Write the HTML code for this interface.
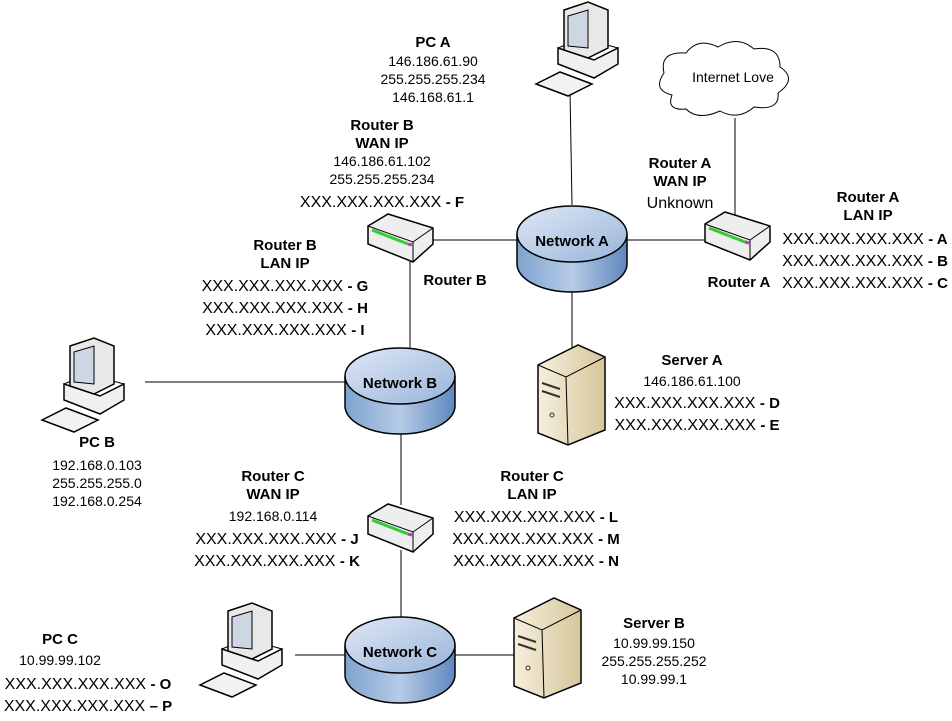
<!DOCTYPE html>
<html><head><style>
body{margin:0;background:#fff}
svg text{font-family:"Liberation Sans",Arial,sans-serif;font-size:14px;fill:#000}
.b{font-weight:bold;font-size:15px}
.x{font-size:16px}
</style></head><body>
<svg width="952" height="716" xmlns="http://www.w3.org/2000/svg">
<defs>
<linearGradient id="cy" x1="0" x2="1" y1="0" y2="0"><stop offset="0" stop-color="#7fa3cf"/><stop offset="0.5" stop-color="#b6cbe6"/><stop offset="1" stop-color="#5f88bf"/></linearGradient>
<linearGradient id="ct" x1="0" x2="1" y1="0" y2="1"><stop offset="0" stop-color="#dfe8f5"/><stop offset="1" stop-color="#98b4da"/></linearGradient>
<linearGradient id="svg1" x1="0" x2="1"><stop offset="0" stop-color="#f6efdc"/><stop offset="1" stop-color="#d6c69a"/></linearGradient>
<g id="net"><path d="M-55,0 v30 a55,28 0 0 0 110,0 v-30" fill="url(#cy)" stroke="#000" stroke-width="1.5"/><ellipse cx="0" cy="0" rx="55" ry="28" fill="url(#ct)" stroke="#000" stroke-width="1.5"/></g>
<g id="rt"><path d="M0,12 L20,0 L65,14 L65,30 L45,48 L0,30 Z" fill="#eee" stroke="#000" stroke-width="1.5"/><path d="M0,12 L45,28 L65,14 M45,28 L45,48" fill="none" stroke="#000"/><path d="M4,16 l36,14" stroke="#3c3" stroke-width="3"/><path d="M40,30 l4,1" stroke="#c3c" stroke-width="3"/></g>
<g id="pc">
<path d="M22,46 L58,58 L82,46 L82,62 L58,76 L22,62 Z" fill="#f0f0f0" stroke="#000" stroke-width="1.5"/>
<path d="M22,46 L46,36 L82,46" fill="#fafafa" stroke="#000"/>
<path d="M28,8 L52,0 L72,8 L72,46 L52,56 L28,48 Z" fill="#e8e8e8" stroke="#000" stroke-width="1.5"/>
<path d="M32,14 L52,8 L52,46 L32,44 Z" fill="#cdd6e2" stroke="#000"/>
<path d="M0,82 L24,70 L56,82 L32,94 Z" fill="#f2f2f2" stroke="#000" stroke-width="1.5"/>
</g>
<g id="srv"><path d="M0,20 L40,0 L67,12 L67,85 L30,100 L0,88 Z" fill="url(#svg1)" stroke="#000" stroke-width="1.5"/><path d="M0,20 L28,32 L67,12 M28,32 L30,100" fill="none" stroke="#000"/><path d="M4,38 l18,6 M4,46 l18,6" stroke="#333" stroke-width="2"/><circle cx="14" cy="70" r="2" fill="none" stroke="#333"/></g>
</defs>
<g stroke="#000" stroke-width="1">
<line x1="570" y1="90" x2="572" y2="205"/>
<line x1="735" y1="118" x2="735" y2="215"/>
<line x1="420" y1="240" x2="705" y2="240"/>
<line x1="572" y1="280" x2="572" y2="350"/>
<line x1="410" y1="258" x2="410" y2="360"/>
<line x1="145" y1="382" x2="345" y2="382"/>
<line x1="401" y1="404" x2="401" y2="505"/>
<line x1="401" y1="550" x2="401" y2="630"/>
<line x1="295" y1="655" x2="515" y2="655"/>
</g>
<path d="M672,95 q-20,-5 -8,-22 q-5,-22 22,-20 q12,-16 32,-6 q20,-12 36,2 q26,-4 26,18 q18,12 -2,26 q2,18 -24,14 q-16,14 -34,4 q-22,10 -34,-2 q-20,2 -14,-14 Z" fill="#fff" stroke="#000"/>
<text x="733" y="82" text-anchor="middle">Internet Love</text>
<use href="#pc" x="536" y="2"/>
<use href="#pc" x="42" y="338"/>
<use href="#pc" x="200" y="603"/>
<use href="#srv" x="538" y="345"/>
<use href="#srv" x="514" y="598"/>
<use href="#net" x="572" y="234"/>
<use href="#net" x="400" y="376"/>
<use href="#net" x="400" y="645"/>
<use href="#rt" x="368" y="214"/>
<use href="#rt" x="705" y="212"/>
<use href="#rt" x="368" y="504"/>
<g text-anchor="middle">
<text x="572" y="246" class="b">Network A</text>
<text x="400" y="388" class="b">Network B</text>
<text x="400" y="657" class="b">Network C</text>
</g>
<g text-anchor="middle">
<text x="433" y="47" class="b">PC A</text><text x="433" y="66">146.186.61.90</text><text x="433" y="84">255.255.255.234</text><text x="433" y="102">146.168.61.1</text>
<text x="382" y="130" class="b">Router B</text><text x="382" y="148" class="b">WAN IP</text><text x="382" y="166">146.186.61.102</text><text x="382" y="184">255.255.255.234</text>
<text x="382" y="207" class="x">XXX.XXX.XXX.XXX <tspan class="b">- F</tspan></text>
<text x="285" y="250" class="b">Router B</text><text x="285" y="268" class="b">LAN IP</text>
<text x="285" y="291" class="x">XXX.XXX.XXX.XXX <tspan class="b">- G</tspan></text>
<text x="285" y="313" class="x">XXX.XXX.XXX.XXX <tspan class="b">- H</tspan></text>
<text x="285" y="335" class="x">XXX.XXX.XXX.XXX <tspan class="b">- I</tspan></text>
<text x="455" y="285" class="b">Router B</text>
<text x="680" y="168" class="b">Router A</text><text x="680" y="186" class="b">WAN IP</text><text x="680" y="208" style="font-size:16px">Unknown</text>
<text x="868" y="202" class="b">Router A</text><text x="868" y="220" class="b">LAN IP</text>
<text x="865" y="244" class="x">XXX.XXX.XXX.XXX <tspan class="b">- A</tspan></text>
<text x="865" y="266" class="x">XXX.XXX.XXX.XXX <tspan class="b">- B</tspan></text>
<text x="865" y="288" class="x">XXX.XXX.XXX.XXX <tspan class="b">- C</tspan></text>
<text x="739" y="287" class="b">Router A</text>
<text x="692" y="365" class="b">Server A</text><text x="692" y="386">146.186.61.100</text>
<text x="697" y="408" class="x">XXX.XXX.XXX.XXX <tspan class="b">- D</tspan></text>
<text x="697" y="430" class="x">XXX.XXX.XXX.XXX <tspan class="b">- E</tspan></text>
<text x="97" y="447" class="b">PC B</text><text x="97" y="470">192.168.0.103</text><text x="97" y="488">255.255.255.0</text><text x="97" y="506">192.168.0.254</text>
<text x="273" y="481" class="b">Router C</text><text x="273" y="499" class="b">WAN IP</text><text x="273" y="521">192.168.0.114</text>
<text x="277" y="544" class="x">XXX.XXX.XXX.XXX <tspan class="b">- J</tspan></text>
<text x="277" y="566" class="x">XXX.XXX.XXX.XXX <tspan class="b">- K</tspan></text>
<text x="532" y="481" class="b">Router C</text><text x="532" y="499" class="b">LAN IP</text>
<text x="536" y="522" class="x">XXX.XXX.XXX.XXX <tspan class="b">- L</tspan></text>
<text x="536" y="544" class="x">XXX.XXX.XXX.XXX <tspan class="b">- M</tspan></text>
<text x="536" y="566" class="x">XXX.XXX.XXX.XXX <tspan class="b">- N</tspan></text>
<text x="60" y="644" class="b">PC C</text><text x="60" y="665">10.99.99.102</text>
<text x="88" y="689" class="x">XXX.XXX.XXX.XXX <tspan class="b">- O</tspan></text>
<text x="88" y="711" class="x">XXX.XXX.XXX.XXX <tspan class="b">– P</tspan></text>
<text x="654" y="628" class="b">Server B</text><text x="654" y="648">10.99.99.150</text><text x="654" y="666">255.255.255.252</text><text x="654" y="684">10.99.99.1</text>
</g>
</svg>
</body></html>
